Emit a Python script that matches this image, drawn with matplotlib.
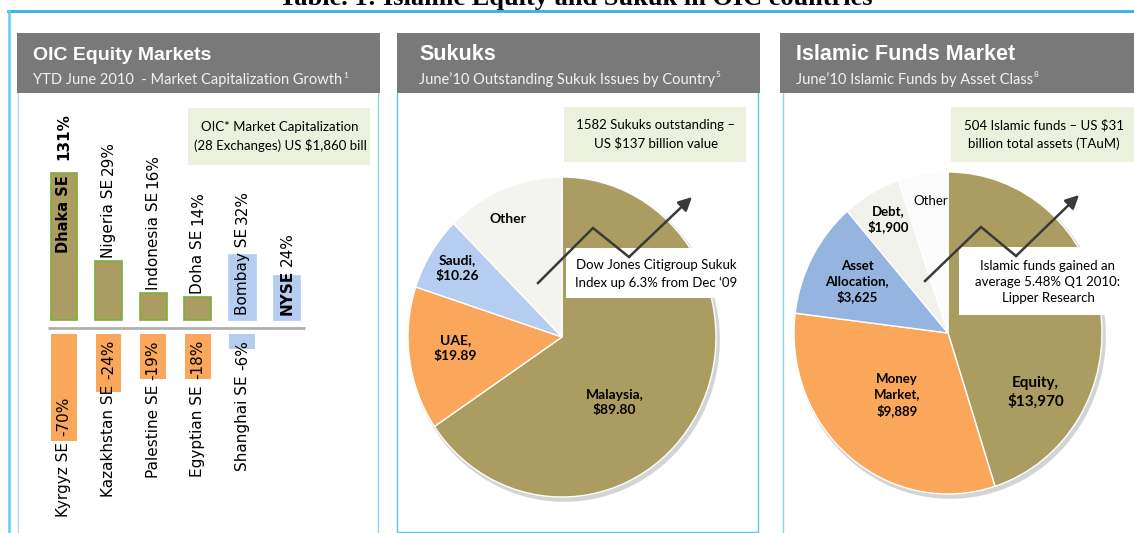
import matplotlib
matplotlib.use('Agg')
import matplotlib.pyplot as plt
from matplotlib.patches import Rectangle, Ellipse
import numpy as np

# market cap growth YTD June 2010 (%), bar lengths as drawn in the source (not to scale)
pos_names = ['Dhaka SE', 'Nigeria SE', 'Indonesia SE', 'Doha SE', 'Bombay SE', 'NYSE']
pos_growth = [131, 29, 16, 14, 32, 24]
pos_drawn = [147, 59, 27, 23, 65, 44]
pos_oic = [True, True, True, True, False, False]

neg_names = ['Kyrgyz SE', 'Kazakhstan SE', 'Palestine SE', 'Egyptian SE', 'Shanghai SE']
neg_growth = [-70, -24, -19, -18, -6]
neg_drawn = [107, 58, 45, 45, 15]
neg_oic = [True, True, True, True, False]

# outstanding sukuk by country, US$ bn (total 137)
sukuk_names = ['Malaysia,\n$89.80', 'UAE,\n$19.89', 'Saudi,\n$10.26', 'Other']
sukuk_values = [89.80, 19.89, 10.26, 17.05]

# islamic funds by asset class, US$ m (total ~31 bn)
fund_names = ['Equity,\n$13,970', 'Money\nMarket,\n$9,889', 'Asset\nAllocation,\n$3,625', 'Debt,\n$1,900', 'Other']
fund_values = [13970, 9889, 3625, 1900, 1616]

OLIVE = '#ab9d62'
ORANGE = '#fba75b'
LBLUE = '#b4cdf1'
MBLUE = '#95b4df'
GREEN = '#7aae3c'
HEADER = '#797979'
NOTE = '#ebf1dc'
DARK = '#3a3a3a'

W, H = 1134, 533
fig = plt.figure(figsize=(W / 100, H / 100), dpi=100)


def rect(x0, y0, x1, y1):
    return [x0 / W, 1 - y1 / H, (x1 - x0) / W, (y1 - y0) / H]


def pixel_axes():
    a = fig.add_axes([0, 0, 1, 1])
    a.set_xlim(0, W)
    a.set_ylim(H, 0)
    a.axis('off')
    return a


# ---- background: title, frames, headers, notes
bg = pixel_axes()
bg.text(576, 5, 'Table. 1: Islamic Equity and Sukuk in OIC countries', ha='center', va='baseline',
        fontsize=19, fontweight='bold', family='Liberation Serif', clip_on=False)
bg.plot([8, W], [11, 11], color='#2fb2e8', lw=2)
bg.plot([9, 9], [11, H], color='#6cc6ea', lw=1.8)

headers = [
    (17, 380, 33, 'OIC Equity Markets', 'YTD June 2010  - Market Capitalization Growth', '1', 14),
    (397, 760, 419, 'Sukuks', 'June\u201910 Outstanding Sukuk Issues by Country', '5', 15.5),
    (780, W, 796, 'Islamic Funds Market', 'June\u201910 Islamic Funds by Asset Class', '8', 15.5),
]
for x0, x1, tx, title, sub, sup, size in headers:
    bg.add_patch(Rectangle((x0, 33), x1 - x0, 60, color=HEADER, lw=0))
    bg.text(tx, 55, title, color='white', fontsize=size, fontweight='bold', va='center',
            family='Liberation Sans')
    s = bg.text(tx, 80, sub, color='#f2f2f2', fontsize=10.5, va='center', family='Lato')
    bg.annotate(sup, xy=(1, 1), xycoords=s, xytext=(0.5, 1), textcoords='offset points',
                fontsize=6, color='#f2f2f2', va='top', family='Lato')

bg.plot([18, 18], [93, H], color='#a9dded', lw=1)
bg.plot([378, 378], [93, H], color='#8fd3e8', lw=1)
bg.plot([397, 397, 758, 758], [93, 532, 532, 93], color='#62c3e0', lw=1)
bg.plot([783, 783], [93, H], color='#8fd3ea', lw=1)

notes = [
    (188, 370, 108, 165, 'OIC* Market Capitalization\n(28 Exchanges) US $1,860 bill'),
    (564, 746, 107, 162, '1582 Sukuks outstanding \u2013\nUS $137 billion value'),
    (951, W, 107, 162, '504 Islamic funds \u2013 US $31\nbillion total assets (TAuM)'),
]
for x0, x1, y0, y1, txt in notes:
    bg.add_patch(Rectangle((x0, y0), x1 - x0, y1 - y0, color=NOTE, lw=0))
    bg.text((x0 + x1) / 2 + 1, (y0 + y1) / 2, txt, ha='center', va='center', fontsize=9.5,
            family='Lato', linespacing=1.55)

# ---- equity bar chart (y in pixel-sized units, baseline at 0)
ax = fig.add_axes(rect(18, 94, 378, 533))
ax.set_xlim(-1.03, 7.04)
ax.set_ylim(-205, 234)
ax.axis('off')
lab = dict(rotation=90, ha='center', fontsize=11, family='DejaVu Sans')

xp = np.arange(len(pos_names))
ax.bar(xp, pos_drawn, width=0.6, bottom=8,
       color=[OLIVE if o else LBLUE for o in pos_oic],
       edgecolor=[GREEN if o else LBLUE for o in pos_oic], linewidth=1.2)
ax.plot([-0.36, 5.4], [0, 0], color='#b0b0b0', lw=2, solid_capstyle='butt')

for i, (name, g, d, oic) in enumerate(zip(pos_names, pos_growth, pos_drawn, pos_oic)):
    top = 8 + d
    if i == 0:
        ax.text(i, 8 + d * 0.72, name, va='center', fontweight='bold',
                **{**lab, 'fontsize': 10.5})
        ax.text(i, top + 13, f'{g}%', va='bottom', fontweight='bold', **lab)
        continue
    y = top + 3 if oic else 13
    t = ax.text(i, y, name, va='bottom', fontweight='bold' if name == 'NYSE' else 'normal', **lab)
    ax.annotate(f'{g}%', xy=(0.5, 1), xycoords=t, xytext=(0, 3), textcoords='offset points',
                va='bottom', **lab)

xn = np.arange(len(neg_names))
ax.bar(xn, [-d for d in neg_drawn], width=0.58, bottom=-6,
       color=[ORANGE if o else LBLUE for o in neg_oic], linewidth=0)
for i, (name, g, d) in enumerate(zip(neg_names, neg_growth, neg_drawn)):
    y = -(6 + d - 44) if d > 80 else -12
    v = ax.text(i, y, f'{g}%', va='top', **lab)
    ax.annotate(name, xy=(0.5, 0), xycoords=v, xytext=(0, -4), textcoords='offset points',
                va='top', **lab)


# ---- pies
def pie_axes(cx, cy, rx, ry):
    pad = 1.03
    a = fig.add_axes(rect(cx - rx * pad, cy - ry * pad, cx + rx * pad, cy + ry * pad))
    a.add_patch(Ellipse((0.015, -0.02), 2.02, 2.02, color='#d4d4d4', lw=0, zorder=0))
    return a, pad


ax2, pad = pie_axes(562, 337, 154, 160)
ax2.pie(sukuk_values, colors=[OLIVE, ORANGE, LBLUE, '#f3f4ef'], startangle=90, counterclock=False,
        wedgeprops=dict(edgecolor='white', linewidth=1))
ax2.set_aspect('auto')
ax2.set_xlim(-pad, pad)
ax2.set_ylim(-pad, pad)
for name, (x, y) in zip(sukuk_names, [(0.34, -0.41), (-0.69, -0.07), (-0.68, 0.43), (-0.35, 0.74)]):
    ax2.text(x, y, name, ha='center', va='center', fontsize=10, fontweight='bold',
             family='Lato', linespacing=1.35)

ax3, pad = pie_axes(948, 333, 154, 161)
ax3.pie(fund_values, colors=[OLIVE, ORANGE, MBLUE, '#f1f2ec', '#fbfbfb'], startangle=90,
        counterclock=False, wedgeprops=dict(edgecolor='white', linewidth=1))
ax3.set_aspect('auto')
ax3.set_xlim(-pad, pad)
ax3.set_ylim(-pad, pad)
fund_xy = [(0.57, -0.37), (-0.33, -0.385), (-0.59, 0.32), (-0.39, 0.71), (-0.11, 0.82)]
for i, (name, (x, y)) in enumerate(zip(fund_names, fund_xy)):
    ax3.text(x, y, name, ha='center', va='center', fontsize=11 if i == 0 else 9.5,
             fontweight='normal' if name == 'Other' else 'bold', family='Lato', linespacing=1.3)

# ---- call-outs over the pies
ov = pixel_axes()
callouts = [
    (566, 745, 248, 298, 656, 'Dow Jones Citigroup Sukuk\nIndex up 6.3% from Dec \u201809',
     [(538, 283), (593, 228), (629, 257), (692, 197)]),
    (959, 1125, 247, 315, 1048, 'Islamic funds gained an\naverage 5.48% Q1 2010:\nLipper Research',
     [(925, 281), (981, 227), (1016, 256), (1079, 195)]),
]
for x0, x1, y0, y1, tx, txt, zig in callouts:
    ov.add_patch(Rectangle((x0, y0), x1 - x0, y1 - y0, color='white', lw=0))
    ov.text(tx, (y0 + y1) / 2 + 1, txt, ha='center', va='center', fontsize=9.5, family='Lato',
            linespacing=1.45)
    zx, zy = zip(*zig)
    ov.plot(zx[:-1], zy[:-1], color=DARK, lw=1.8, solid_joinstyle='miter')
    ov.annotate('', xy=zig[-1], xytext=zig[-2],
                arrowprops=dict(arrowstyle='-|>', color=DARK, lw=1.8, mutation_scale=20,
                                shrinkA=0, shrinkB=0))

fig.savefig('out.png', dpi=100)
